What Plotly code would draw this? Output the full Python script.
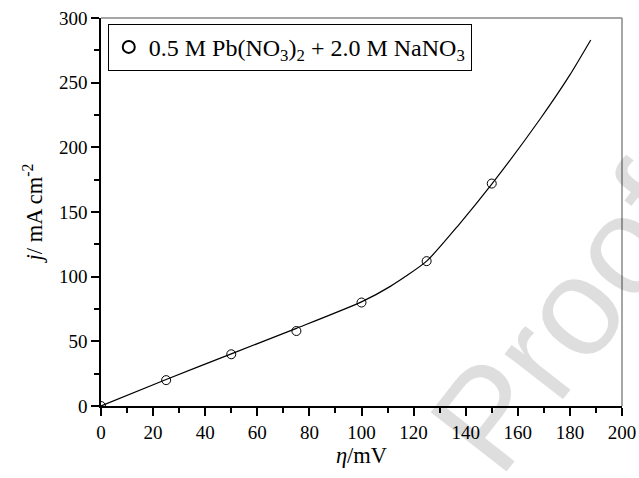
import plotly.graph_objects as go

# measured data points
eta_pts = [0, 25, 50, 75, 100, 125, 150]
j_pts = [0, 20, 40, 58, 80, 112, 172]

# fitted curve
eta_fit = [0, 25, 50, 75, 100, 110.9, 125, 137.5, 150, 168.5, 180, 188]
j_fit = [0, 20.5, 40.3, 60, 80.5, 92.3, 112, 140.5, 171.5, 221.7, 256, 283]

legend_label = "0.5 M Pb(NO<sub>3</sub>)<sub>2</sub> + 2.0 M NaNO<sub>3</sub>"

FONT = "Liberation Serif, Times New Roman, serif"

fig = go.Figure()
fig.add_trace(go.Scatter(x=eta_fit, y=j_fit, mode="lines",
                         line=dict(color="black", width=1.2, shape="spline", smoothing=0.6),
                         showlegend=False, hoverinfo="skip"))
fig.add_trace(go.Scatter(x=eta_pts, y=j_pts, mode="markers", name=legend_label,
                         marker=dict(symbol="circle-open", size=9, color="black", line=dict(width=1))))

axis_common = dict(showgrid=False, zeroline=False, showline=True, linecolor="black", linewidth=1.5,
                   ticks="outside", ticklen=8, tickwidth=1.5, tickcolor="black", automargin=False,
                   tickfont=dict(family=FONT, size=19, color="black"))

fig.update_xaxes(range=[0, 200], dtick=20, tick0=0,
                 minor=dict(ticks="outside", ticklen=5, tickwidth=1.5, dtick=10, tickcolor="black"),
                 title=dict(text="<i>η</i>/mV", font=dict(family=FONT, size=22.5, color="black"), standoff=6),
                 **axis_common)
fig.update_yaxes(range=[0, 300], dtick=50, tick0=0,
                 minor=dict(ticks="outside", ticklen=5, tickwidth=1.5, dtick=25, tickcolor="black"),
                 title=dict(text="<i>j</i>/ mA cm<sup>-2</sup>", font=dict(family=FONT, size=22.5, color="black"), standoff=10),
                 **axis_common)

# gray top and right frame
fig.add_shape(type="line", xref="paper", yref="paper", x0=0, x1=1, y0=1, y1=1, line=dict(color="#888888", width=1.5))
fig.add_shape(type="line", xref="paper", yref="paper", x0=1, x1=1, y0=0, y1=1, line=dict(color="#888888", width=1.5))

# watermark (semi-transparent so the labels below it stay visible)
fig.add_annotation(text="Proof", xref="paper", yref="paper", x=0.89, y=0.225, showarrow=False,
                   xanchor="center", yanchor="middle",
                   textangle=-52, font=dict(family="Liberation Sans, Arial, sans-serif", size=140,
                                            color="rgba(0,0,0,0.13)"))

fig.update_layout(
    width=639, height=478,
    margin=dict(l=101, r=17, t=18, b=72),
    paper_bgcolor="white", plot_bgcolor="white",
    font=dict(family=FONT, color="black"),
    legend=dict(x=0.013, y=0.985, xanchor="left", yanchor="top", bordercolor="black", borderwidth=1,
                bgcolor="white", font=dict(family=FONT, size=24, color="black"), itemsizing="constant"),
)

fig.write_html("out.html")
